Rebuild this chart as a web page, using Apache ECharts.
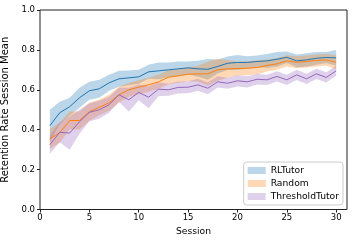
<!DOCTYPE html>
<html><head><meta charset="utf-8">
<script src="https://cdn.jsdelivr.net/npm/echarts@6/dist/echarts.min.js"></script>
<style>html,body{margin:0;padding:0;background:#fff}#c{width:354px;height:244px}</style>
</head><body><div id="c"></div>
<script>
const sessions = [1,2,3,4,5,6,7,8,9,10,11,12,13,14,15,16,17,18,19,20,21,22,23,24,25,26,27,28,29,30];
const xTicks = [0,5,10,15,20,25,30];
const seriesNames = ['RLTutor','Random','ThresholdTutor'];

const rlMean  = [0.42,0.485,0.515,0.56,0.595,0.605,0.635,0.655,0.66,0.665,0.69,0.695,0.70,0.705,0.71,0.705,0.703,0.717,0.733,0.737,0.737,0.742,0.745,0.753,0.763,0.745,0.75,0.758,0.762,0.76];
const rlUpper = [0.50,0.54,0.56,0.61,0.64,0.65,0.675,0.695,0.697,0.70,0.725,0.737,0.737,0.742,0.742,0.745,0.755,0.752,0.767,0.775,0.768,0.772,0.78,0.79,0.792,0.777,0.783,0.79,0.79,0.80];
const rlLower = [0.34,0.43,0.47,0.51,0.55,0.56,0.595,0.615,0.623,0.63,0.655,0.653,0.663,0.668,0.678,0.665,0.651,0.682,0.699,0.699,0.706,0.712,0.71,0.716,0.734,0.713,0.717,0.726,0.734,0.72];

const randMean  = [0.355,0.385,0.446,0.446,0.49,0.512,0.535,0.575,0.60,0.613,0.625,0.64,0.663,0.67,0.678,0.68,0.68,0.70,0.705,0.707,0.708,0.712,0.722,0.73,0.745,0.738,0.742,0.747,0.75,0.738];
const randUpper = [0.405,0.435,0.491,0.491,0.535,0.552,0.575,0.615,0.635,0.648,0.66,0.675,0.698,0.705,0.713,0.72,0.74,0.755,0.75,0.742,0.743,0.747,0.752,0.76,0.773,0.768,0.772,0.777,0.78,0.773];
const randLower = [0.305,0.335,0.401,0.401,0.445,0.472,0.495,0.535,0.565,0.578,0.59,0.605,0.628,0.635,0.643,0.64,0.62,0.645,0.66,0.672,0.673,0.677,0.692,0.70,0.717,0.708,0.712,0.717,0.72,0.703];

const thrMean  = [0.325,0.387,0.383,0.44,0.487,0.50,0.525,0.575,0.55,0.587,0.563,0.603,0.60,0.612,0.613,0.625,0.608,0.64,0.633,0.645,0.64,0.653,0.65,0.667,0.65,0.675,0.655,0.68,0.662,0.695];
const thrUpper = [0.37,0.437,0.466,0.50,0.532,0.545,0.565,0.61,0.61,0.627,0.618,0.638,0.63,0.642,0.643,0.655,0.638,0.668,0.661,0.673,0.668,0.679,0.676,0.693,0.676,0.701,0.681,0.706,0.688,0.72];
const thrLower = [0.28,0.337,0.30,0.38,0.442,0.455,0.485,0.54,0.49,0.547,0.508,0.568,0.57,0.582,0.583,0.595,0.578,0.612,0.605,0.617,0.612,0.627,0.624,0.641,0.624,0.649,0.629,0.654,0.636,0.67];

const lineColors = ['#1f77b4','#ff7f0e','#9467bd'];
const bandColors = ['rgba(31,119,180,0.3)','rgba(255,127,14,0.3)','rgba(148,103,189,0.3)'];
const means = [rlMean, randMean, thrMean];
const uppers = [rlUpper, randUpper, thrUpper];
const lowers = [rlLower, randLower, thrLower];

const series = [];
for (let k = 0; k < 3; k++) {
  const data = sessions.map((s, i) => [s, lowers[k][i], uppers[k][i]]);
  series.push({
    name: seriesNames[k], type: 'custom', silent: true, z: 1,
    itemStyle: {color: bandColors[k]},
    encode: {x: 0, y: [1, 2]},
    data: data,
    renderItem: function (params, api) {
      if (params.dataIndex !== 0) return null;
      const pts = [];
      for (let i = 0; i < data.length; i++) pts.push(api.coord([data[i][0], data[i][2]]));
      for (let i = data.length - 1; i >= 0; i--) pts.push(api.coord([data[i][0], data[i][1]]));
      return {type: 'polygon', shape: {points: pts}, style: {fill: bandColors[k], stroke: null}};
    }
  });
}
for (let k = 0; k < 3; k++) {
  series.push({
    name: seriesNames[k] + ' mean', type: 'line', symbol: 'none', silent: true,
    data: sessions.map((s, i) => [s, means[k][i]]),
    lineStyle: {color: lineColors[k], width: 1}, z: 3
  });
}

const chart = echarts.init(document.getElementById('c'), null, {renderer: 'canvas'});
chart.setOption({
  animation: false,
  backgroundColor: '#fff',
  grid: {left: 40, right: 7, top: 10, bottom: 34.5, outerBoundsMode: 'none', containLabel: false,
         show: true, borderColor: '#222', borderWidth: 1, backgroundColor: 'transparent'},
  legend: {
    orient: 'vertical', right: 11, top: 162,
    data: seriesNames.map((n, k) => ({name: n, icon: 'rect', itemStyle: {color: bandColors[k]}})),
    itemWidth: 18, itemHeight: 7, itemGap: 4,
    textStyle: {fontFamily: 'DejaVu Sans', fontSize: 9.2, color: '#000'},
    backgroundColor: 'rgba(255,255,255,0.8)', borderColor: '#ccc', borderWidth: 1, borderRadius: 3,
    padding: [4, 4, 4, 4]
  },
  xAxis: {
    type: 'value', min: 0, max: 31.1,
    name: 'Session', nameLocation: 'middle', nameGap: 16,
    nameTextStyle: {fontFamily: 'DejaVu Sans', fontSize: 9.2, color: '#000'},
    axisLine: {show: false},
    axisTick: {show: true, length: 3, customValues: xTicks, lineStyle: {color: '#222'}},
    axisLabel: {customValues: xTicks, fontFamily: 'DejaVu Sans', fontSize: 8.5, color: '#000', margin: 4},
    splitLine: {show: false}
  },
  yAxis: {
    type: 'value', min: 0, max: 1, interval: 0.2,
    name: 'Retention Rate Session Mean', nameLocation: 'middle', nameGap: 29,
    nameTextStyle: {fontFamily: 'DejaVu Sans', fontSize: 10, color: '#000'},
    axisLine: {show: false},
    axisTick: {show: true, length: 3, lineStyle: {color: '#222'}},
    axisLabel: {fontFamily: 'DejaVu Sans', fontSize: 8.5, color: '#000', margin: 5, formatter: v => v.toFixed(1)},
    splitLine: {show: false}
  },
  series: series
});
</script></body></html>
